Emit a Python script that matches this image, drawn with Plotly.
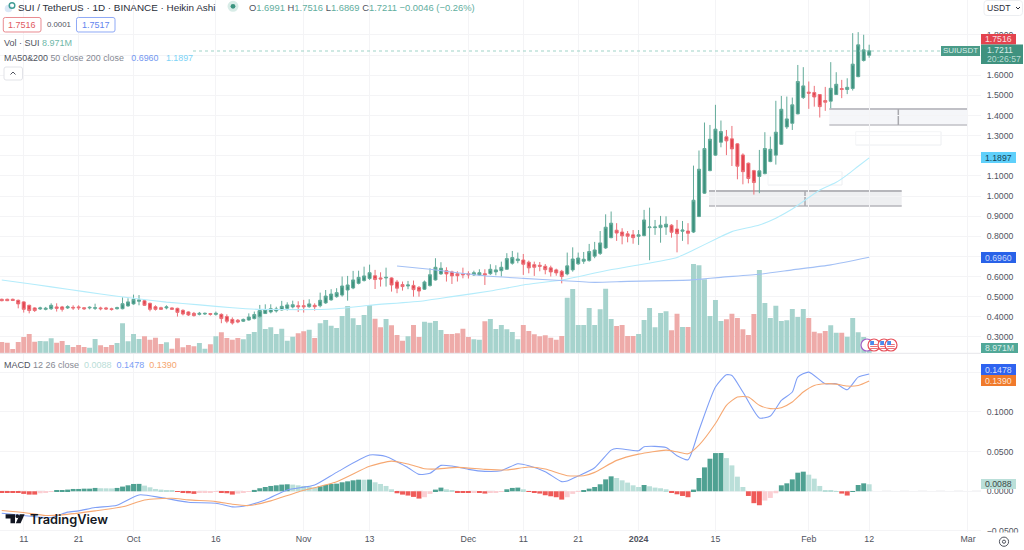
import pandas as pd
import plotly.graph_objects as go

# ---------- data ----------
first_day = "2023-09-07"
opens = [.487,.487,.487,.482,.474,.457,.444,.439,.437,.440,
 .449,.449,.444,.447,.449,.445,.444,.442,.444,.444,
 .440,.440,.440,.454,.464,.477,.480,.467,.450,.445,
 .444,.444,.442,.432,.424,.417,.412,.414,.416,.412,
 .412,.401,.387,.383,.378,.384,.391,.401,.416,.424,
 .429,.434,.442,.449,.455,.455,.450,.457,.455,.469,
 .484,.500,.508,.533,.543,.566,.580,.590,.604,.593,
 .593,.593,.573,.560,.553,.556,.546,.537,.555,.583,
 .613,.629,.623,.614,.613,.614,.608,.608,.614,.614,
 .623,.629,.636,.666,.679,.682,.671,.659,.656,.651,
 .643,.633,.626,.613,.633,.663,.676,.679,.701,.715,
 .742,.793,.830,.821,.812,.807,.800,.803,.843,.843,
 .843,.846,.855,.836,.825,.826,.821,.898,1.014,1.126,
 1.203,1.267,1.294,1.284,1.259,1.204,1.163,1.126,1.097,1.111,
 1.171,1.203,1.257,1.343,1.361,1.408,1.489,1.516,1.514,1.504,
 1.474,1.471,1.504,1.534,1.529,1.534,1.593,1.673,1.6991]
highs = [.490,.490,.490,.485,.477,.460,.447,.450,.449,.467,
 .467,.454,.457,.457,.457,.447,.452,.465,.450,.449,
 .445,.450,.497,.492,.510,.508,.484,.470,.457,.450,
 .457,.447,.445,.437,.427,.424,.424,.421,.419,.426,
 .417,.412,.397,.389,.391,.417,.426,.459,.462,.462,
 .450,.479,.472,.480,.477,.484,.487,.467,.520,.533,
 .537,.542,.600,.603,.628,.629,.649,.659,.633,.621,
 .644,.596,.583,.575,.578,.580,.553,.580,.641,.691,
 .671,.646,.629,.626,.644,.626,.629,.636,.636,.661,
 .656,.674,.716,.727,.719,.712,.679,.674,.672,.662,
 .654,.639,.633,.719,.745,.719,.722,.762,.772,.826,
 .909,.923,.865,.840,.826,.831,.831,.931,.942,.881,
 .901,.899,.860,.881,.876,.865,1.151,1.226,1.365,1.353,
 1.453,1.375,1.328,1.348,1.262,1.212,1.166,1.130,1.229,1.317,
 1.295,1.473,1.497,1.494,1.489,1.651,1.640,1.569,1.547,1.506,
 1.542,1.665,1.615,1.577,1.585,1.809,1.814,1.801,1.7516]
lows = [.477,.478,.478,.442,.421,.417,.424,.434,.432,.434,
 .426,.426,.439,.434,.434,.434,.437,.434,.432,.434,
 .431,.436,.437,.450,.460,.457,.454,.427,.431,.434,
 .437,.434,.401,.407,.404,.401,.407,.409,.406,.406,
 .368,.368,.361,.368,.374,.381,.387,.396,.414,.417,
 .421,.431,.431,.442,.424,.421,.445,.431,.447,.464,
 .480,.495,.500,.480,.537,.561,.575,.583,.538,.550,
 .550,.525,.517,.530,.537,.500,.500,.533,.550,.580,
 .608,.575,.563,.575,.591,.590,.603,.603,.558,.608,
 .606,.600,.633,.659,.666,.608,.616,.603,.626,.611,
 .600,.604,.566,.606,.624,.658,.663,.674,.691,.707,
 .737,.790,.777,.760,.770,.763,.757,.800,.681,.807,
 .768,.807,.793,.720,.777,.760,.816,.895,1.010,1.123,
 1.199,1.242,1.203,1.149,1.083,1.058,1.063,1.007,1.014,1.108,
 1.168,1.156,1.254,1.333,1.328,1.406,1.482,1.433,1.444,1.390,
 1.423,1.436,1.502,1.486,1.506,1.524,1.590,1.668,1.6869]
closes = [.480,.480,.481,.464,.437,.431,.431,.444,.442,.457,
 .442,.437,.450,.444,.445,.440,.447,.445,.440,.439,
 .436,.445,.465,.474,.487,.484,.457,.437,.437,.437,
 .449,.437,.422,.414,.409,.406,.417,.417,.412,.417,
 .391,.378,.369,.374,.387,.399,.411,.431,.436,.440,
 .439,.452,.459,.460,.450,.450,.464,.450,.482,.503,
 .513,.520,.553,.558,.583,.596,.603,.619,.585,.588,
 .596,.558,.542,.550,.558,.535,.528,.573,.609,.646,
 .641,.613,.603,.604,.609,.609,.619,.619,.608,.636,
 .633,.646,.689,.694,.687,.661,.643,.646,.651,.634,
 .623,.618,.600,.653,.687,.692,.686,.724,.732,.767,
 .845,.865,.816,.802,.800,.793,.807,.881,.846,.846,
 .855,.860,.820,.813,.831,.815,.979,1.133,1.236,1.282,
 1.332,1.320,1.274,1.234,1.148,1.121,1.087,1.067,1.125,1.236,
 1.232,1.317,1.431,1.383,1.453,1.569,1.547,1.511,1.492,1.444,
 1.466,1.535,1.555,1.529,1.540,1.655,1.751,1.726,1.7211]
volumes = [20.4,19.2,7.8,20.4,29.4,34.8,21,22.2,21.6,27,
 19.2,22.2,15,11.4,15,11.4,10.2,25.8,14.4,11.4,
 15,18.6,54,21.6,34.8,25.8,30.6,24.6,28.2,16.8,
 19.8,8.4,27,10.8,15,12.6,18.6,8.4,16.2,30.6,
 37.8,27.6,24.6,27.6,25.2,34.8,38.4,76.8,43.8,46.8,
 34.8,44.4,22.8,30,36,39.6,42.6,27.6,54,60,
 49.8,45.6,67.2,85.2,63,51,69,87,62.4,46.8,
 61.8,50.4,33,22.8,30.6,51,29.4,57,55.2,58.2,
 42,34.8,34.8,36,44.4,29.4,25.2,24.6,57.6,61.8,
 43.8,51,43.2,38.4,25.2,51,40.2,34.2,30.6,32.4,
 28.2,24.6,31.2,100.2,115.8,51,51,81.6,51,79.2,
 116.4,61.8,49.2,51,31.2,31.2,34.8,60,81.6,46.8,
 72.6,75.6,41.4,71.4,47.4,47.4,160.8,158.4,133.2,67.2,
 96,58.2,61.2,71.4,63.6,43.2,33,70.8,150,90.6,
 63.6,85.8,58.2,59.4,79.8,65.4,79.8,63.6,39,36,
 40.2,50.4,37.2,37.2,30,63.6,37.8,29.4,8.971]
macd_hist = [-.0013,-.0013,-.0013,-.0017,-.0033,-.0042,-.0042,-.0025,-.0013,-.0004,
 .0008,.0013,.0021,.0029,.0029,.0033,.0033,.0042,.0038,.0037,
 .0036,.0042,.0059,.0075,.0092,.0093,.0071,.0050,.0029,.0021,
 .0013,.0004,-.0008,-.0017,-.0025,-.0033,-.0021,-.0017,-.0013,-.0008,
 -.0013,-.0025,-.0042,-.0029,-.0017,-.0004,.0017,.0038,.0054,.0067,
 .0075,.0084,.0088,.0084,.0075,.0067,.0059,.0046,.0063,.0079,
 .0092,.0096,.0113,.0125,.0138,.0146,.0145,.0147,.0113,.0092,
 .0067,.0025,-.0025,-.0042,-.0054,-.0071,-.0092,-.0075,-.0033,.0021,
 .0046,.0025,.0008,-.0013,-.0014,-.0021,-.0013,-.0017,-.0029,-.0017,
 -.0013,-.0004,.0025,.0042,.0046,.0025,-.0004,-.0013,-.0029,-.0050,
 -.0063,-.0075,-.0105,-.0075,-.0033,-.0004,.0013,.0033,.0054,.0088,
 .0150,.0188,.0167,.0138,.0109,.0075,.0054,.0079,.0063,.0046,
 .0038,.0025,-.0013,-.0038,-.0059,-.0075,.0021,.0167,.0301,.0410,
 .0481,.0482,.0418,.0326,.0184,.0054,-.0059,-.0150,-.0176,-.0117,
 -.0084,-.0025,.0075,.0100,.0150,.0234,.0247,.0209,.0159,.0067,
 .0013,.0004,.0003,-.0029,-.0054,.0001,.0079,.0100,.0088]

# moving averages and MACD lines: day offset from 2023-10-01, value
ma50_days = [-24,-18,-12,-6,0,6,12,18,23,27,33,37,43,53,58,65,71,78,86,92,99,102,106,109,114,117,120,125,128,130,132,134]
ma50_vals = [.583,.560,.537,.513,.492,.473,.459,.445,.437,.436,.436,.440,.457,.480,.500,.528,.558,.583,.629,.657,.695,.732,.785,.823,.856,.890,.935,1.030,1.068,1.105,1.148,1.1897]
ma200_days = [48,54,59,65,71,78,84,90,100,103,107,114,120,127,134]
ma200_vals = [.652,.636,.619,.601,.591,.580,.571,.576,.581,.586,.596,.611,.633,.658,.6960]
macd_days = [-24,-20,-15,-12,-10,-7,-3,1,5,10,15,18,20,24,28,33,37,43,46,50,52,54,56,58,61,64,67,70,72,75,78,79,81,84,87,88,92,93,97,99,101,103,106,108,109,111,114,116,118,120,121,123,126,128,130,132,134]
macd_vals = [-.0276,-.0305,-.033,-.0263,-.0247,-.0205,-.0176,-.0046,-.0079,-.0138,-.015,-.0196,-.0188,-.0109,.0017,.0079,.0238,.0456,.0439,.0297,.0213,.0226,.0326,.0318,.0276,.0251,.0259,.0347,.0322,.0247,.0121,.013,.0192,.0297,.0518,.0539,.051,.056,.0552,.0447,.0397,.0769,.1313,.1467,.1459,.125,.0924,.0949,.1145,.125,.1438,.1501,.1354,.1354,.1279,.1438,.1478]
signal_days = [-24,-20,-16,-13,-7,-2,2,7,10,15,18,21,25,30,37,43,47,50,53,55,59,64,68,72,75,79,82,84,88,92,97,99,101,103,106,108,110,112,114,116,118,120,122,124,126,128,130,132,134]
signal_vals = [-.0242,-.0268,-.0305,-.0297,-.0247,-.0196,-.0109,-.0088,-.0109,-.013,-.0163,-.018,-.0121,-.0008,.0121,.0314,.038,.0343,.0284,.028,.0301,.0276,.0268,.0305,.028,.0196,.0196,.0238,.0389,.0468,.0518,.0497,.0472,.0581,.0853,.1083,.1187,.1187,.1083,.1041,.1053,.1124,.125,.1333,.1354,.135,.1325,.1333,.1390]

time_tick_dates = ["2023-09-11","2023-09-21","2023-10-01","2023-10-16","2023-11-01","2023-11-13","2023-12-01","2023-12-11","2023-12-21","2024-01-01","2024-01-15","2024-02-01","2024-02-12","2024-03-01"]
time_tick_labels = ["11","21","Oct","16","Nov","13","Dec","11","21","<b>2024</b>","15","Feb","12","Mar"]
price_ticks = [.3,.4,.5,.6,.7,.8,.9,1.0,1.1,1.2,1.3,1.4,1.5,1.6,1.7,1.8]
price_tick_labels = ["0.3000","0.4000","0.5000","0.6000","","0.8000","0.9000","1.0000","1.1000","","1.3000","1.4000","1.5000","1.6000","","1.8000"]
macd_ticks = [-.05,0,.05,.1,.15]
macd_tick_labels = ["−0.0500","0.0000","0.0500","0.1000",""]

# ---------- styles ----------
FONT = "Liberation Sans"
GREEN, RED = "#3d927e", "#e3434e"
GREEN_EDGE, RED_EDGE = "#63ab9a", "#ec7078"
VOL_G, VOL_R = "#a6d3cd", "#eeaba9"
H_G, H_GL, H_R, H_RL = "#4fa192", "#badfd9", "#ef5a58", "#fbcfd3"
GRID = "#f4f4f6"
TXT = "#50535e"

PW, PH = 981.0, 532.0
def X(px): return px / PW
def Y(py): return 1 - py / PH

dates = pd.date_range(first_day, periods=len(closes), freq="D")
base = pd.Timestamp("2023-10-01")
def off(days): return [base + pd.Timedelta(days=int(d)) for d in days]
def DX(px): return base + pd.Timedelta(days=(px - 133.5) / 5.49)
def DY(py): return 1 + (196 - py) / 201.3

vol_colors = [VOL_G if c >= o else VOL_R for o, c in zip(opens, closes)]
hist_colors = []
for i, v in enumerate(macd_hist):
    prev = macd_hist[i - 1] if i else 0
    if v >= 0:
        hist_colors.append(H_G if v >= prev else H_GL)
    else:
        hist_colors.append(H_R if v <= prev else H_RL)

fig = go.Figure()
fig.add_trace(go.Bar(x=dates, y=volumes, marker=dict(color=vol_colors, line_width=0), xaxis="x", yaxis="y"))
fig.add_trace(go.Candlestick(x=dates, open=opens, high=highs, low=lows, close=closes, xaxis="x", yaxis="y2",
    whiskerwidth=0,
    increasing=dict(line=dict(color=GREEN_EDGE, width=1), fillcolor=GREEN),
    decreasing=dict(line=dict(color=RED_EDGE, width=1), fillcolor=RED)))
fig.add_trace(go.Scatter(x=off(ma50_days), y=ma50_vals, mode="lines", line=dict(color="#b4ecfb", width=1.1, shape="spline", smoothing=0.5), xaxis="x", yaxis="y2"))
fig.add_trace(go.Scatter(x=off(ma200_days), y=ma200_vals, mode="lines", line=dict(color="#a3c0f5", width=1.1, shape="spline", smoothing=0.5), xaxis="x", yaxis="y2"))
fig.add_trace(go.Bar(x=dates, y=macd_hist, marker=dict(color=hist_colors, line_width=0), xaxis="x2", yaxis="y3"))
fig.add_trace(go.Scatter(x=off(macd_days), y=macd_vals, mode="lines", line=dict(color="#7f9ff6", width=1.1, shape="spline", smoothing=0.6), xaxis="x2", yaxis="y3"))
fig.add_trace(go.Scatter(x=off(signal_days), y=signal_vals, mode="lines", line=dict(color="#f6a872", width=1.1, shape="spline", smoothing=0.6), xaxis="x2", yaxis="y3"))

shapes, anns = [], []
def rect(x0, y0, x1, y1, fill=None, line=None, lw=1, layer="above"):
    shapes.append(dict(type="rect", xref="paper", yref="paper", x0=X(x0), x1=X(x1), y0=Y(y0), y1=Y(y1),
                       fillcolor=fill or "rgba(0,0,0,0)", line=dict(color=line or "rgba(0,0,0,0)", width=lw if line else 0), layer=layer))
def hline(x0, x1, y, color, w=1, dash="solid", layer="above"):
    shapes.append(dict(type="line", xref="paper", yref="paper", x0=X(x0), x1=X(x1), y0=Y(y), y1=Y(y), line=dict(color=color, width=w, dash=dash), layer=layer))
def circle(cx, cy, r, fill=None, line=None, lw=1):
    shapes.append(dict(type="circle", xref="paper", yref="paper", x0=X(cx-r), x1=X(cx+r), y0=Y(cy-r), y1=Y(cy+r),
                       fillcolor=fill or "rgba(0,0,0,0)", line=dict(color=line or "rgba(0,0,0,0)", width=lw if line else 0)))
def poly(points, fill):
    d = "M " + " L ".join(f"{X(a):.5f} {Y(b):.5f}" for a, b in points) + " Z"
    shapes.append(dict(type="path", xref="paper", yref="paper", path=d, fillcolor=fill, line=dict(width=0)))
def rrect(x0, y0, x1, y1, r, fill, line, lw=1):
    P = lambda a, b: f"{X(a):.5f} {Y(b):.5f}"
    d = (f"M {P(x0+r,y0)} L {P(x1-r,y0)} Q {P(x1,y0)} {P(x1,y0+r)} L {P(x1,y1-r)} Q {P(x1,y1)} {P(x1-r,y1)} "
         f"L {P(x0+r,y1)} Q {P(x0,y1)} {P(x0,y1-r)} L {P(x0,y0+r)} Q {P(x0,y0)} {P(x0+r,y0)} Z")
    shapes.append(dict(type="path", xref="paper", yref="paper", path=d, fillcolor=fill, line=dict(color=line, width=lw)))
def text(x, y, s, size=8.9, color=TXT, anchor="left", weight=None, family=FONT):
    f = dict(family=family, size=size, color=color)
    if weight: f["weight"] = weight
    anns.append(dict(xref="paper", yref="paper", x=X(x), y=Y(y), text=s, showarrow=False, xanchor=anchor, yanchor="middle", font=f, borderpad=0, borderwidth=0))
def span(s, c): return f'<span style="color:{c}">{s}</span>'

# data-anchored tool shapes sit above the grid and behind the candles
def drect(x0, y0, x1, y1, fill):
    shapes.append(dict(type="rect", xref="x", yref="y2", x0=DX(x0), x1=DX(x1), y0=DY(y1), y1=DY(y0), fillcolor=fill, line=dict(width=0), layer="below"))
def dline(x0, y0, x1, y1, color, w):
    shapes.append(dict(type="line", xref="x", yref="y2", x0=DX(x0), x1=DX(x1), y0=DY(y0), y1=DY(y1), line=dict(color=color, width=w), layer="below"))

# pane separator and zero line
hline(0, 981, 353.3, "#e6e7ea", 1)
hline(0, 981, 491.3, "#cfd0d4", 1, "dash", layer="below")
rect(981, 532.5, 1024, 550, "#ffffff")

# position tools
drect(709, 191, 901.7, 206, "#eeeff1")
dline(709, 191, 901.7, 191, "#b6b6bb", 2)
dline(709, 206, 901.7, 206, "#b6b6bb", 1.5)
dline(805, 191, 805, 206, "#a9a9ae", 1.5)
drect(829.3, 109, 967, 125, "#f5f6f9")
dline(829.3, 109, 967, 109, "#c0c0c6", 2)
dline(829.3, 125, 967, 125, "#c0c0c6", 1.5)
dline(898.3, 109, 898.3, 125, "#a9a9ae", 1.5)
drect(768, 171.7, 842, 185, "#ffffff")
drect(855.7, 131.7, 941, 145, "#ffffff")
for x0, y0, x1, y1 in [(768, 171.7, 842, 185), (855.7, 131.7, 941, 145)]:
    dline(x0, y1, x1, y1, "#eceef1", 1); dline(x1, y0, x1, y1, "#eceef1", 1); dline(x0, y0, x0, y1, "#f4f5f7", 1); dline(x0, y0, x1, y0, "#f4f5f7", 1)

# last-price dotted line
hline(193, 943, 51, "#9fd3c7", 1.2, "dot")

# legend: title row
circle(8.5, 8.5, 3.8, "#dbe8f6")
circle(12, 5.5, 2.8, None, "#3f9c93", 1.4)
text(18, 7.2, "SUI / TetherUS · 1D · BINANCE · Heikin Ashi", 9.9, "#2a2e39")
circle(233, 6.3, 5.5, "#d8ece7")
circle(233, 6.3, 2.4, "#3c9480")
vg = "#5fae9e"
text(249, 7.2, "O" + span("1.6991", vg) + " H" + span("1.7516", vg) + " L" + span("1.6869", vg) + " C" + span("1.7211", vg) + " " + span("−0.0046 (−0.26%)", vg), 9.4)

# bid / ask row
rrect(3.3, 17.5, 41, 32, 2, "#ffffff", "#e98b90")
text(22, 25, "1.7516", 9, "#df5a62", "center")
text(59, 25, "0.0001", 7.8, "#50535e", "center")
rrect(76.5, 17.5, 115, 32, 2, "#ffffff", "#8fa9f6")
text(96, 25, "1.7517", 9, "#5f85ee", "center")

# indicator legends
text(4, 43, "Vol · SUI " + span("8.971M", "#6fb8a9"), 9)
text(4, 58, "MA50&amp;200 " + span("50 close 200 close", "#868993") + "   " + span("0.6960", "#7296f0") + "   " + span("1.1897", "#7dd3f6"), 8.9)
rrect(4, 67, 22.5, 80, 2, "#ffffff", "#e2e3e8")
shapes.append(dict(type="path", xref="paper", yref="paper", path=f"M {X(10.5)} {Y(74.5)} L {X(13)} {Y(72)} L {X(15.5)} {Y(74.5)}", line=dict(color="#50535e", width=1)))
text(4, 365, "MACD " + span("12 26 close", "#868993") + "  " + span("0.0088", "#b9ddd7") + "  " + span("0.1478", "#7b9ef5") + "  " + span("0.1390", "#f5a66f"), 9)

# currency button
rrect(984, 0.5, 1022.5, 15.5, 3, "#ffffff", "#eceef1")
text(987, 7.5, "USDT", 8.6, "#2a2e39")
shapes.append(dict(type="path", xref="paper", yref="paper", path=f"M {X(1016)} {Y(7)} L {X(1018)} {Y(9)} L {X(1020)} {Y(7)}", line=dict(color="#2a2e39", width=1)))

# axis price labels
def plabel(y0, y1, s, fill, col="#ffffff", x1=1016):
    rect(981, y0, x1, y1, fill)
    text((981 + x1) / 2, (y0 + y1) / 2, s, 8.7, col, "center")
plabel(34, 44.5, "1.7516", "#e3434e", "#fbdfe0")
rect(981, 44.5, 1023, 64, "#3f927f")
text(987, 50, "1.7211", 8.7, "#d8ece7")
text(987, 58.8, "20:26:57", 8.7, "#b7dcd3")
rect(941, 46, 980, 56, "#4a9b88")
text(960.5, 51, "SUIUSDT", 8, "#d8ece7", "center")
plabel(152, 163, "1.1897", "#5fd0fb", "#14465a")
plabel(252, 263, "0.6960", "#2962e8", "#c9d9fb")
plabel(343, 353, "8.971M", "#52a898", "#d8ece7", 1018)
plabel(364, 375, "0.1478", "#2e63f0", "#d2defc")
plabel(375, 386, "0.1390", "#f07a2c", "#fde3d1")
plabel(479, 489, "0.0088", "#badfd9", "#3d4a48")

# event icons
circle(867, 345, 6, "#ffffff", "#a45fc8", 1.2)
for cx in (874, 884, 891):
    circle(cx, 345, 6, "#ffffff", "#e6505a", 1.2)
    for yy in (344.5, 346.5, 348.5):
        hline(cx - 3.8, cx + 3.8, yy, "#e6505a", 0.8)
    rect(cx - 3.8, 341, cx, 345, "#4a8cec")

# TradingView logo
poly([(5.6,514.3),(15,514.3),(15,523.3),(10.5,523.3),(10.5,518.5),(5.6,518.5)], "#131722")
circle(17.3, 516.2, 1.9, "#131722")
poly([(19.8,514.3),(24.6,514.3),(20.6,523.3),(15.8,523.3)], "#131722")
text(30, 519, "TradingView", 12.8, "#131722", weight=600, family="Inter")

# settings gear
circle(1004, 541.7, 4.6, None, "#50535e", 1)
circle(1004, 541.7, 1.6, None, "#50535e", 1)

axis_x = dict(range=["2023-09-06 16:19", "2024-03-03 08:53"], type="date",
              tickmode="array", tickvals=time_tick_dates, ticktext=time_tick_labels,
              showgrid=True, gridcolor=GRID, gridwidth=1, zeroline=False, showline=False, ticks="")
fig.update_layout(
    width=1024, height=550, margin=dict(l=0, r=43, t=0, b=18, autoexpand=False),
    paper_bgcolor="#ffffff", plot_bgcolor="rgba(0,0,0,0)", showlegend=False,
    bargap=0.1, boxgap=0.22, hovermode=False,
    font=dict(family=FONT, size=8.7, color=TXT),
    xaxis=dict(axis_x, anchor="y", showticklabels=False, rangeslider=dict(visible=False)),
    xaxis2=dict(axis_x, anchor="y3", matches="x", showticklabels=True, tickfont=dict(family=FONT, size=8.8, color=TXT)),
    yaxis=dict(domain=[0.3359, 1], range=[0, 636], visible=False, showgrid=False, fixedrange=True),
    yaxis2=dict(overlaying="y", side="right", anchor="x", range=[0.2186, 1.9737], tickmode="array", tickvals=price_ticks, ticktext=price_tick_labels,
                showgrid=True, gridcolor=GRID, zeroline=False, showline=False,
                ticks="outside", ticklen=3, tickcolor="rgba(0,0,0,0)", tickfont=dict(family=FONT, size=8.7, color=TXT)),
    yaxis3=dict(domain=[0, 0.3346], side="right", anchor="x2", range=[-0.0513, 0.1729], tickmode="array", tickvals=macd_ticks, ticktext=macd_tick_labels,
                showgrid=True, gridcolor=GRID, zeroline=False, showline=False,
                ticks="outside", ticklen=3, tickcolor="rgba(0,0,0,0)", tickfont=dict(family=FONT, size=8.7, color=TXT)),
    shapes=shapes, annotations=anns,
)

fig.write_html("out.html", config=dict(displayModeBar=False), post_script="document.body.style.margin='0';")
